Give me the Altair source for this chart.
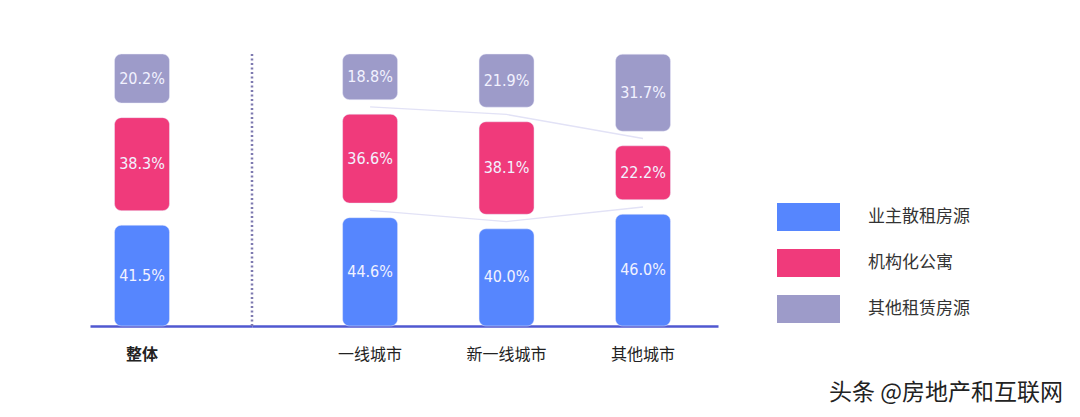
import altair as alt
import pandas as pd

categories = ["整体", "一线城市", "新一线城市", "其他城市"]
series = ["业主散租房源", "机构化公寓", "其他租赁房源"]
owner = [41.5, 44.6, 40.0, 46.0]
institutional = [38.3, 36.6, 38.1, 22.2]
other = [20.2, 18.8, 21.9, 31.7]
colors = ["#5686FE", "#F03A7B", "#9D9BC9"]

GAP = 6.0
H = 272
YMAX = 100 + 2 * GAP

rows, gaps = [], []
for i, c in enumerate(categories):
    base = 0.0
    for j, vals in enumerate([owner, institutional, other]):
        v = vals[i]
        y0 = base + j * GAP
        y1 = y0 + v
        rows.append(dict(cat=c, series=series[j], y0=y0, y1=y1, mid=(y0 + y1) / 2,
                         label=f"{v:.1f}%"))
        if j < 2:
            gaps.append(dict(cat=c, boundary=j, y=y1 + GAP / 2))
        base += v
df = pd.DataFrame(rows)
gdf = pd.DataFrame(gaps)

yscale = alt.Scale(domain=[0, YMAX], nice=False, zero=False)
cscale = alt.Scale(domain=series, range=colors)
NUM_FONT = "Liberation Sans Narrow, DejaVu Sans Condensed, Liberation Sans"
CJK = "Noto Sans CJK SC"


def make_panel(cats, width, pad_outer, align, bold, with_lines, with_divider):
    d = df[df["cat"].isin(cats)]
    xs = alt.Scale(domain=cats, paddingInner=0.597, paddingOuter=pad_outer, align=align)
    xax = alt.Axis(title=None, labelAngle=0, ticks=False, domainColor="#5058D0",
                   domainWidth=2.5, labelPadding=20, labelFontSize=16, labelFont=CJK,
                   labelColor="#222222", labelFontWeight="bold" if bold else "normal")
    x = alt.X("cat:N", scale=xs, axis=xax, sort=cats)
    layers = []
    if with_divider:
        layers.append(
            alt.Chart(pd.DataFrame({"a": [0]})).mark_rule(
                color="#7E7AB0", strokeWidth=2.5, strokeDash=[2, 2.5]
            ).encode(x=alt.value(0), y=alt.value(0), y2=alt.value(H))
        )
    if with_lines:
        g = gdf[gdf["cat"].isin(cats)]
        layers.append(
            alt.Chart(g).mark_line(color="#E2E2F6", strokeWidth=1.3).encode(
                x=x, y=alt.Y("y:Q", scale=yscale, axis=None), detail="boundary:N"
            )
        )
    base = alt.Chart(d)
    layers.append(
        base.mark_bar(cornerRadius=7, stroke="#ECECFA", strokeWidth=0.8, strokeOpacity=0.6).encode(
            x=x,
            y=alt.Y("y0:Q", scale=yscale, axis=None),
            y2="y1:Q",
            color=alt.Color("series:N", scale=cscale, legend=None),
        )
    )
    layers.append(
        base.mark_text(color="#F2F2FF", fontSize=16, font=NUM_FONT).encode(
            x=x, y=alt.Y("mid:Q", scale=yscale, axis=None), text="label:N"
        )
    )
    return alt.layer(*layers).properties(width=width, height=H)


left = make_panel(["整体"], 162, 0.392, 0.229, True, False, False)
right = make_panel(["一线城市", "新一线城市", "其他城市"], 466, 0.506, 0.656, False, True, True)

LX = 59  # offset of legend swatches inside the legend panel
leg_df = pd.DataFrame({"series": series})
leg_y = alt.Y("series:N", sort=series,
              scale=alt.Scale(domain=series, range=[140, 278], paddingInner=0.39, paddingOuter=0.195),
              axis=None)
leg_rect = alt.Chart(leg_df).mark_rect().encode(
    y=leg_y, x=alt.value(LX), x2=alt.value(LX + 63),
    color=alt.Color("series:N", scale=cscale, legend=None),
)
leg_text = alt.Chart(leg_df).mark_text(align="left", baseline="middle", fontSize=17,
                                       font=CJK, color="#333333").encode(
    y=leg_y, x=alt.value(LX + 91), text="series:N"
)
watermark = alt.Chart(pd.DataFrame({"t": ["头条 @房地产和互联网"]})).mark_text(
    align="right", baseline="middle", fontSize=23, font=CJK, color="#222222"
).encode(x=alt.value(LX + 286), y=alt.value(339), text="t:N")
legend = alt.layer(leg_rect, leg_text, watermark).properties(width=LX + 292, height=H)

chart = alt.hconcat(left, right, legend, spacing=0, bounds="flush").properties(
    padding={"left": 82, "top": 44, "right": 0, "bottom": 48},
    background="white",
).configure_view(stroke=None)

chart.save("out.html", embed_options={"renderer": "svg", "actions": False})
